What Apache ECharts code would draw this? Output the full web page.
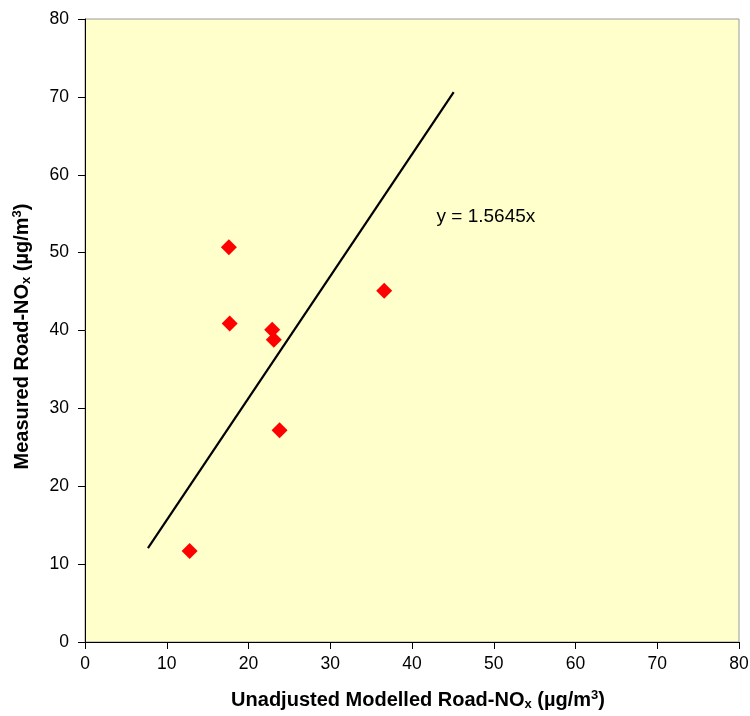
<!DOCTYPE html>
<html>
<head>
<meta charset="utf-8">
<script src="https://cdn.jsdelivr.net/npm/echarts@6/dist/echarts.min.js"></script>
<style>html,body{margin:0;padding:0;background:#fff}#c{width:750px;height:716px}</style>
</head>
<body>
<div id="c"></div>
<script>
var modelled = [12.8, 17.6, 17.7, 22.9, 23.1, 23.8, 36.6];
var measured = [11.7, 50.7, 40.9, 40.1, 38.8, 27.2, 45.1];
var trendX = [7.7, 45.1];
var trendY = [12.05, 70.6];
var equationText = 'y = 1.5645x';
var axisTicks = [0, 10, 20, 30, 40, 50, 60, 70, 80];

var pts = modelled.map(function (v, i) { return [v, measured[i]]; });
var line = trendX.map(function (v, i) { return [v, trendY[i]]; });

var chart = echarts.init(document.getElementById('c'));
var F = 'Liberation Sans';
var tickLabelX = { fontFamily: F, fontSize: 17.5, color: '#000', margin: 13 };
var tickLabelY = { fontFamily: F, fontSize: 17.5, color: '#000', margin: 16 };
var nameRich = {
  b: { fontFamily: F, fontWeight: 'bold', fontSize: 20, color: '#000' },
  sub: { fontFamily: F, fontWeight: 'bold', fontSize: 13, color: '#000', verticalAlign: 'bottom', padding: [9, 0, 0, 0] },
  sup: { fontFamily: F, fontWeight: 'bold', fontSize: 13, color: '#000', padding: [0, 0, 9, 0] }
};
chart.setOption({
  animation: false,
  grid: { left: 85, right: 11, top: 19, bottom: 74, outerBoundsMode: 'none', containLabel: false,
    show: true, backgroundColor: '#FFFFCC', borderColor: '#999', borderWidth: 1 },
  xAxis: {
    type: 'value', min: axisTicks[0], max: axisTicks[axisTicks.length - 1], interval: 10,
    name: '{b|Unadjusted Modelled Road-NO}{sub|x}{b| (µg/m}{sup|3}{b|)}',
    nameLocation: 'middle', nameGap: 47,
    nameTextStyle: { rich: nameRich, padding: [0, 0, 0, 12] },
    axisLine: { onZero: false, lineStyle: { color: '#000', width: 1 } },
    axisTick: { show: true, length: 7, lineStyle: { color: '#000' } },
    axisLabel: tickLabelX,
    splitLine: { show: false }
  },
  yAxis: {
    type: 'value', min: axisTicks[0], max: axisTicks[axisTicks.length - 1], interval: 10,
    name: '{b|Measured Road-NO}{sub|x}{b| (µg/m}{sup|3}{b|)}',
    nameLocation: 'middle', nameGap: 52, nameRotate: 90,
    nameTextStyle: { rich: nameRich, padding: [0, 12, 0, 0] },
    axisLine: { show: true, onZero: false, lineStyle: { color: '#000', width: 1 } },
    axisTick: { show: true, length: 7, lineStyle: { color: '#000' } },
    axisLabel: tickLabelY,
    splitLine: { show: false }
  },
  series: [
    {
      type: 'line', data: line, symbol: 'none', silent: true,
      lineStyle: { color: '#000', width: 2.2 }
    },
    {
      type: 'scatter', data: pts, symbol: 'diamond', symbolSize: 16,
      itemStyle: { color: '#FF0000', opacity: 1 }
    }
  ]
});
var p = chart.convertToPixel({ gridIndex: 0 }, [43.0, 54.6]);
chart.setOption({
  graphic: [{
    type: 'text', x: p[0], y: p[1],
    style: { text: equationText, fontFamily: F, fontSize: 19, fill: '#000', verticalAlign: 'middle' }
  }]
});
</script>
</body>
</html>
